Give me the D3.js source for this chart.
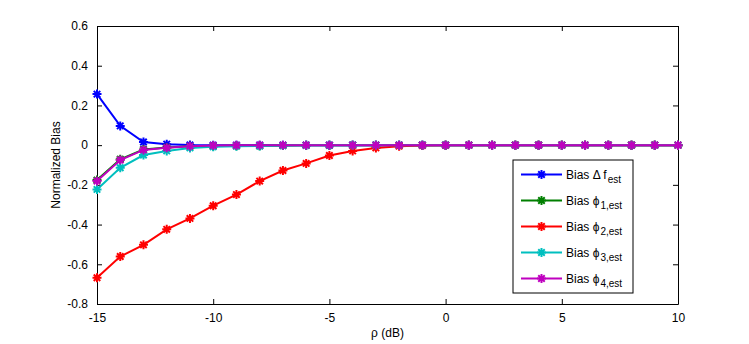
<!DOCTYPE html>
<html>
<head>
<meta charset="utf-8">
<script src="https://cdn.jsdelivr.net/npm/d3@7"></script>
<style>
  body { margin: 0; background: #fff; }
  text { font-family: Arial, "Liberation Sans", sans-serif; }
</style>
</head>
<body>
<svg id="plot" width="749" height="344"></svg>
<script>
// values
var rho = [-15,-14,-13,-12,-11,-10,-9,-8,-7,-6,-5,-4,-3,-2,-1,0,1,2,3,4,5,6,7,8,9,10];
var biasF  = [0.257,0.097,0.016,0.005,0.001,0,0,0,0,0,0,0,0,0,0,0,0,0,0,0,0,0,0,0,0,0];
var biasP1 = [-0.176,-0.071,-0.022,-0.012,-0.006,-0.004,-0.003,-0.003,-0.002,-0.001,-0.001,0,0,0,0,0,0,0,0,0,0,0,0,0,0,0];
var biasP2 = [-0.668,-0.561,-0.502,-0.424,-0.369,-0.305,-0.249,-0.181,-0.128,-0.092,-0.052,-0.029,-0.014,-0.005,-0.002,-0.001,0,0,0,0,0,0,0,0,0,0];
var biasP3 = [-0.223,-0.114,-0.05,-0.029,-0.014,-0.008,-0.005,-0.004,-0.002,-0.001,-0.001,0,0,0,0,0,0,0,0,0,0,0,0,0,0,0];
var biasP4 = [-0.181,-0.075,-0.024,-0.013,-0.005,-0.002,-0.001,0,0,0,0,0,0,0,0,0,0,0,0,0,0,0,0,0,0,0];
var xTicks = [-15,-10,-5,0,5,10];
var yTicks = [-0.8,-0.6,-0.4,-0.2,0,0.2,0.4,0.6];

var series = [
  {name: "Bias \u0394 f", sub: "est", color: "#0000ff", values: biasF},
  {name: "Bias \u03d5", sub: "1,est", color: "#007f00", values: biasP1},
  {name: "Bias \u03d5", sub: "2,est", color: "#ff0000", values: biasP2},
  {name: "Bias \u03d5", sub: "3,est", color: "#00bfbf", values: biasP3},
  {name: "Bias \u03d5", sub: "4,est", color: "#bf00bf", values: biasP4}
];

var svg = d3.select("#plot"),
    margin = {top: 26, right: 71, bottom: 40, left: 97},
    width = +svg.attr("width") - margin.left - margin.right,
    height = +svg.attr("height") - margin.top - margin.bottom;

var x = d3.scaleLinear().domain([-15, 10]).range([0, width]),
    y = d3.scaleLinear().domain([-0.8, 0.6]).range([height, 0]);

var g = svg.append("g")
    .attr("transform", "translate(" + margin.left + "," + margin.top + ")");

// plain hyphen minus like matlab
var fmt = function(d) { return String(+d.toFixed(1)); };

// axes, ticks pointing inward
g.append("g")
    .attr("transform", "translate(0," + height + ")")
    .call(d3.axisBottom(x).tickValues(xTicks).tickSizeInner(-5).tickSizeOuter(0).tickPadding(9).tickFormat(fmt));
g.append("g")
    .call(d3.axisTop(x).tickValues(xTicks).tickSizeInner(-5).tickSizeOuter(0).tickFormat(""));
g.append("g")
    .call(d3.axisLeft(y).tickValues(yTicks).tickSizeInner(-5).tickSizeOuter(0).tickPadding(9).tickFormat(fmt));
g.append("g")
    .attr("transform", "translate(" + width + ",0)")
    .call(d3.axisRight(y).tickValues(yTicks).tickSizeInner(-5).tickSizeOuter(0).tickFormat(""));

g.selectAll(".domain").attr("stroke", "#000");
g.selectAll(".tick line").attr("stroke", "#000");
g.selectAll(".tick text").attr("font-size", 12).attr("fill", "#000")
    .attr("font-family", "Arial, 'Liberation Sans', sans-serif");

// asterisk marker
function star(cx, cy, r) {
  var d = r * 0.72;
  return "M" + (cx - r) + "," + cy + "H" + (cx + r) +
         "M" + cx + "," + (cy - r) + "V" + (cy + r) +
         "M" + (cx - d) + "," + (cy - d) + "L" + (cx + d) + "," + (cy + d) +
         "M" + (cx - d) + "," + (cy + d) + "L" + (cx + d) + "," + (cy - d);
}

var line = d3.line()
    .x(function(d, i) { return x(rho[i]); })
    .y(function(d) { return y(d); });

series.forEach(function(s) {
  g.append("path")
      .attr("d", line(s.values))
      .attr("fill", "none")
      .attr("stroke", s.color)
      .attr("stroke-width", 2);
  g.append("g").selectAll("path")
      .data(s.values)
      .enter().append("path")
      .attr("d", function(d, i) { return star(x(rho[i]), y(d), 4.5); })
      .attr("stroke", s.color)
      .attr("stroke-width", 2)
      .attr("fill", "none");
});

// labels
g.append("text")
    .attr("x", width / 2)
    .attr("y", height + 33)
    .attr("text-anchor", "middle")
    .attr("font-size", 12)
    .text("\u03c1 (dB)");

g.append("text")
    .attr("transform", "translate(" + (-37) + "," + (height / 2) + ") rotate(-90)")
    .attr("text-anchor", "middle")
    .attr("font-size", 12)
    .text("Normalized Bias");

// legend
var legend = svg.append("g").attr("transform", "translate(513,160)");
legend.append("rect")
    .attr("width", 120).attr("height", 133)
    .attr("fill", "#fff").attr("stroke", "#000").attr("stroke-width", 1);

var item = legend.selectAll(".item")
    .data(series)
    .enter().append("g")
    .attr("transform", function(d, i) { return "translate(0," + (14.5 + i * 26) + ")"; });

item.append("line")
    .attr("x1", 8).attr("x2", 49)
    .attr("stroke", function(d) { return d.color; })
    .attr("stroke-width", 2);
item.append("path")
    .attr("d", star(28.5, 0, 4.5))
    .attr("stroke", function(d) { return d.color; })
    .attr("stroke-width", 2);
var lt = item.append("text")
    .attr("x", 53).attr("y", 4)
    .attr("font-size", 12);
lt.append("tspan").text(function(d) { return d.name; });
lt.append("tspan")
    .attr("dy", 4).attr("dx", 1)
    .attr("font-size", 10)
    .text(function(d) { return d.sub; });
</script>
</body>
</html>
